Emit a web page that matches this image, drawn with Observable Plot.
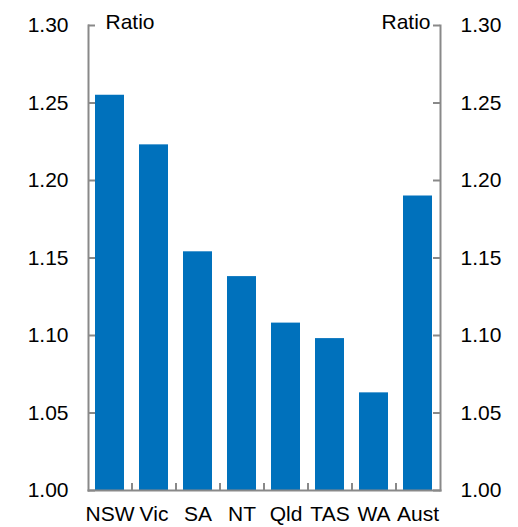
<!DOCTYPE html>
<html>
<head>
<meta charset="utf-8">
<script src="https://cdn.jsdelivr.net/npm/d3@7"></script>
<script src="https://cdn.jsdelivr.net/npm/@observablehq/plot@0.6"></script>
<style>
  html, body { margin: 0; padding: 0; background: #fff; }
  svg { font-family: "Liberation Sans", Arial, sans-serif; }
</style>
</head>
<body>
<div id="chart"></div>
<script>
const categories = ["NSW", "Vic", "SA", "NT", "Qld", "TAS", "WA", "Aust"];
const values = [1.255, 1.223, 1.154, 1.138, 1.108, 1.098, 1.063, 1.190];
const yTicks = [1.00, 1.05, 1.10, 1.15, 1.20, 1.25, 1.30];
const unitLabel = "Ratio";

const data = categories.map((c, i) => ({state: c, value: values[i]}));

const W = 518, H = 527;
const mL = 88, mR = 78, mT = 25, mB = 37;
const frameW = W - mL - mR;
const axisColor = "#898989";
const barColor = "#0071bc";
const fs = 21;

const chart = Plot.plot({
  width: W,
  height: H,
  marginLeft: mL,
  marginRight: mR,
  marginTop: mT,
  marginBottom: mB,
  style: {fontSize: fs + "px", fontFamily: '"Liberation Sans", Arial, sans-serif', color: "#000", background: "#fff"},
  x: {domain: categories, paddingInner: 0.34, paddingOuter: 0.17, label: null},
  y: {domain: [1, 1.3], label: null},
  marks: [
    Plot.barY(data, {x: "state", y1: 1, y2: "value", fill: barColor}),
    Plot.frame({anchor: "left", stroke: axisColor, strokeWidth: 2}),
    Plot.frame({anchor: "right", stroke: axisColor, strokeWidth: 2}),
    Plot.frame({anchor: "bottom", stroke: axisColor, strokeWidth: 2}),
    Plot.ruleY(yTicks, {y: d => d, insetRight: frameW - 7, stroke: axisColor, strokeWidth: 2}),
    Plot.ruleY(yTicks, {y: d => d, insetLeft: frameW - 7, stroke: axisColor, strokeWidth: 2}),
    Plot.ruleX(categories.slice(1), {x: d => d, y1: 1, y2: 1.0045, dx: -frameW / categories.length / 2, stroke: axisColor, strokeWidth: 2}),
    Plot.axisY(yTicks, {anchor: "left", tickSize: 0, tickPadding: 20, tickFormat: d3.format(".2f"), fontSize: fs, fill: "#000"}),
    Plot.axisY(yTicks, {anchor: "right", tickSize: 0, tickPadding: 20, tickFormat: d3.format(".2f"), fontSize: fs, fill: "#000"}),
    Plot.axisX({tickSize: 0, tickPadding: 16, fontSize: fs, fill: "#000"}),
    Plot.text([unitLabel], {frameAnchor: "top-left", text: d => d, dx: 17, dy: -3, textAnchor: "start", lineAnchor: "middle", fontSize: fs, fill: "#000"}),
    Plot.text([unitLabel], {frameAnchor: "top-right", text: d => d, dx: -10, dy: -3, textAnchor: "end", lineAnchor: "middle", fontSize: fs, fill: "#000"})
  ]
});
document.getElementById("chart").appendChild(chart);
</script>
</body>
</html>
